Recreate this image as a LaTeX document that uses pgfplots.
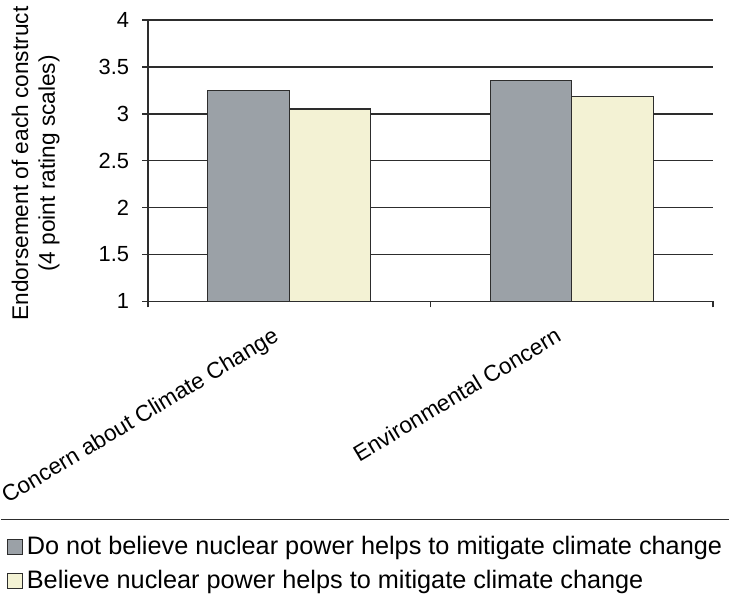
\documentclass[border=0pt]{standalone}
\usepackage{pgfplots}
\pgfplotsset{compat=1.18}
\usepackage{fontspec}
\setmainfont{Liberation Sans}
\definecolor{barGray}{RGB}{155,161,167}
\definecolor{barCream}{RGB}{243,242,212}
\definecolor{gridDark}{RGB}{45,45,45}

\begin{document}
\begin{tikzpicture}
  \begin{axis}[
    scale only axis,
    width=284pt, height=141.5pt,
    clip mode=individual,
    ybar=0pt, bar width=41pt,
    ymin=1, ymax=4,
    xmin=-0.5, xmax=1.5,
    axis x line*=bottom, axis y line*=left,
    axis line style={gridDark, line width=0.8pt, -},
    ymajorgrids,
    major grid style={gridDark, line width=0.8pt},
    tick align=outside,
    major tick length=3pt, minor tick length=3pt,
    tick style={gridDark, line width=0.8pt},
    ytick={1,1.5,...,4},
    yticklabel style={/pgf/number format/assume math mode=true,
      font=\fontsize{11}{13}\selectfont, xshift=-3pt},
    xtick={0,1},
    xticklabels={Concern about Climate Change, Environmental Concern},
    major x tick style={draw=none},
    minor xtick={-0.5,0.5,1.5},
    xticklabel style={rotate=31, anchor=north east, overlay,
      font=\fontsize{11.4}{13.5}\selectfont, xshift=-9pt},
    ylabel={Endorsement of each construct\\(4 point rating scales)},
    every axis y label/.style={at={(rel axis cs:-0.199,0.49)},
      rotate=90, anchor=center, align=center, overlay,
      font=\fontsize{11.4}{13.5}\selectfont},
    legend style={at={(rel axis cs:-0.2606,-0.805)}, anchor=north west,
      draw=none, fill=none, font=\fontsize{12.7}{15}\selectfont,
      row sep=2.5pt},
    legend cell align=left,
    legend image code/.code={
      \draw[#1, draw=gridDark, line width=0.5pt] (0pt,-3.7pt) rectangle (7.4pt,3.7pt);},
  ]
    \addplot[fill=barGray, draw=gridDark, line width=0.6pt]
      coordinates {(0,3.25) (1,3.35)};
    \addplot[fill=barCream, draw=gridDark, line width=0.6pt]
      coordinates {(0,3.05) (1,3.18)};
    \legend{Do not believe nuclear power helps to mitigate climate change,
      Believe nuclear power helps to mitigate climate change}
    \draw[gridDark, line width=0.8pt]
      (rel axis cs:-0.2606,-0.774) -- (rel axis cs:1.0282,-0.774);
    \path (rel axis cs:-0.2606,1.0707) rectangle (rel axis cs:1.0282,-1.053);
  \end{axis}
\end{tikzpicture}
\end{document}
